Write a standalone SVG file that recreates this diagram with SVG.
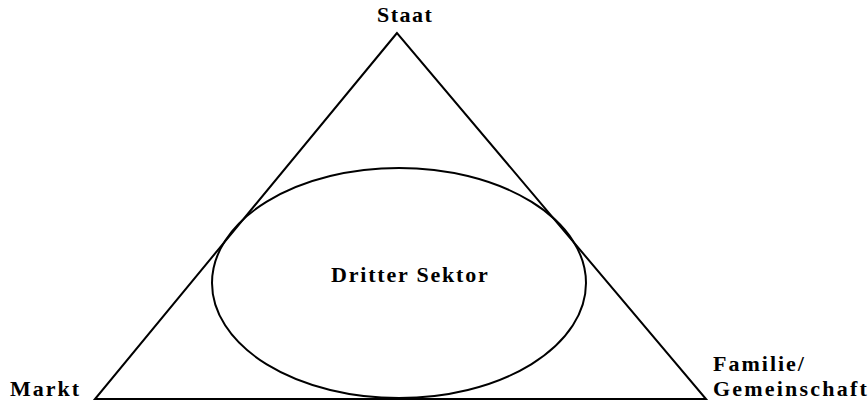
<svg xmlns="http://www.w3.org/2000/svg" width="868" height="401" viewBox="0 0 868 401">
<style>
.shape{fill:none;stroke:#000;stroke-width:2}
.lbl{font-family:"Liberation Serif","Times New Roman",serif;font-weight:bold;font-size:22px;letter-spacing:2px;fill:#000}
</style>
<rect width="868" height="401" fill="#fff"/>
<g id="connectors">
<polygon id="triangle" class="shape" points="397,33 95,399 706,399"/>
</g>
<g id="staat"><text class="lbl" x="377" y="22" style="letter-spacing:1.5px">Staat</text></g>
<g id="markt"><text class="lbl" x="10" y="396">Markt</text></g>
<g id="familie"><text class="lbl" x="713" y="371">Familie/</text><text class="lbl" x="713" y="396" style="letter-spacing:2.2px">Gemeinschaft</text></g>
<g id="dritter-sektor">
<ellipse class="shape" cx="399" cy="283" rx="187" ry="115"/>
<text class="lbl" x="331" y="282" style="letter-spacing:1.8px">Dritter Sektor</text>
</g>
</svg>
